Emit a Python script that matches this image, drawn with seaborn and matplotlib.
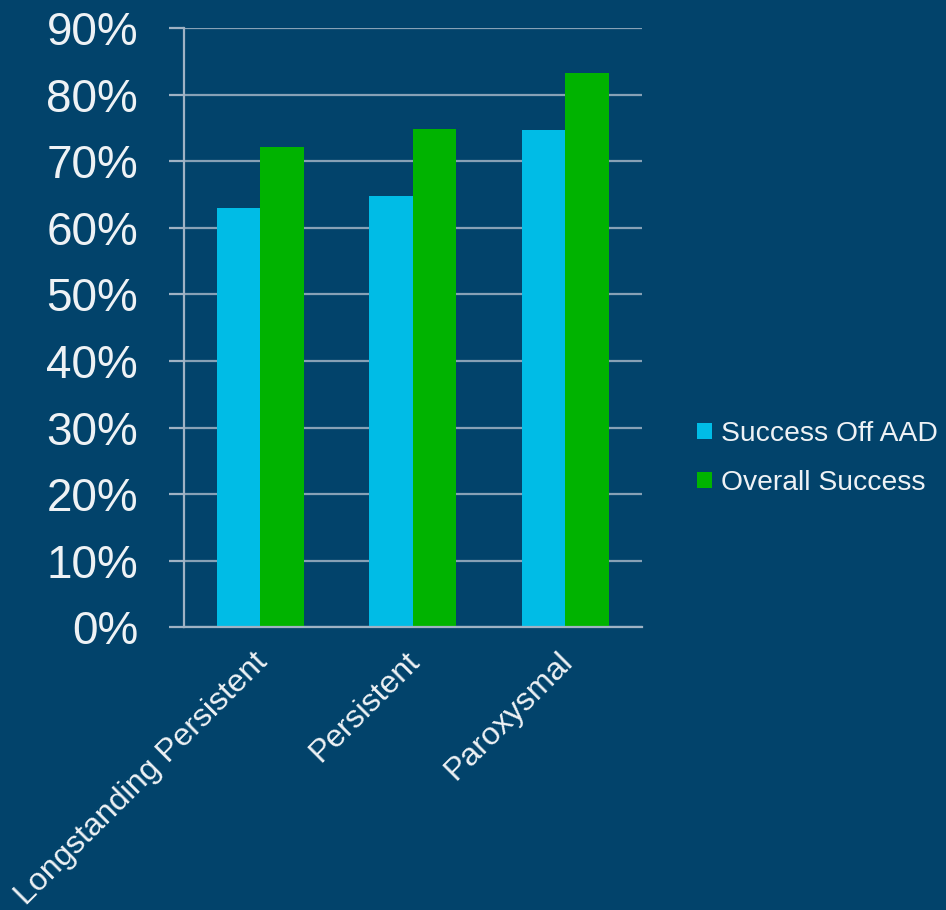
import matplotlib
matplotlib.use("Agg")
import matplotlib.pyplot as plt
import matplotlib.transforms as mtransforms
import seaborn as sns
import pandas as pd
from matplotlib.ticker import PercentFormatter

# Data
categories = ["Longstanding Persistent", "Persistent", "Paroxysmal"]
series_names = ["Success Off AAD", "Overall Success"]
success_off_aad = [63.0, 64.8, 74.7]
overall_success = [72.2, 74.9, 83.2]
y_ticks = [0, 10, 20, 30, 40, 50, 60, 70, 80, 90]

bg = "#02436b"
grid_col = "#9fb2c4"
text_col = "#eef2f5"
palette = {"Success Off AAD": "#00bce6", "Overall Success": "#00b300"}

df = pd.DataFrame({
    "category": categories * 2,
    "series": [series_names[0]] * 3 + [series_names[1]] * 3,
    "value": success_off_aad + overall_success,
})

sns.set_theme(style="white")
plt.rcParams["font.family"] = ["Liberation Sans", "DejaVu Sans"]

fig = plt.figure(figsize=(9.46, 9.10), dpi=100, facecolor=bg)
ax = fig.add_axes([0.1945, 0.3107, 0.4838, 0.6585])
ax.set_facecolor(bg)

sns.barplot(data=df, x="category", y="value", hue="series", order=categories,
            hue_order=series_names, palette=palette, width=0.57,
            saturation=1, linewidth=0, ax=ax, legend=True)

ax.set_xlim(-0.5, 2.5)
ax.set_ylim(0, 90)
ax.set_yticks(y_ticks)
ax.yaxis.set_major_formatter(PercentFormatter(decimals=0))
ax.set_xlabel("")
ax.set_ylabel("")

# Gridlines and axes
ax.set_axisbelow(True)
ax.yaxis.grid(True, color=grid_col, linewidth=1.6, alpha=0.85)
ax.xaxis.grid(False)
for side in ["top", "right"]:
    ax.spines[side].set_visible(False)
for side in ["left", "bottom"]:
    ax.spines[side].set_color(grid_col)
    ax.spines[side].set_linewidth(1.6)

# Category labels at group centres, boundary ticks between groups
ax.set_xticks([0, 1, 2])
ax.set_xticklabels(categories, rotation=45, ha="right", va="top",
                   fontsize=23, color=text_col, rotation_mode="anchor")
ax.tick_params(axis="x", which="major", length=0, pad=14)
ax.set_xticks([-0.5, 0.5, 1.5, 2.5], minor=True)
ax.tick_params(axis="x", which="minor", length=7, width=1.4, color=grid_col,
               direction="out")
ax.tick_params(axis="y", length=11, width=1.6, color=grid_col, pad=22,
               labelsize=33, labelcolor=text_col, direction="out", left=True)

shift = mtransforms.ScaledTranslation(-8 / 100, 0, fig.dpi_scale_trans)
for lbl in ax.get_xticklabels():
    lbl.set_color(text_col)
    lbl.set_transform(lbl.get_transform() + shift)

# Legend
handles, labels = ax.get_legend_handles_labels()
ax.legend_.remove()
leg = fig.legend(handles, labels, loc="center left",
                 bbox_to_anchor=(0.737, 0.4962), frameon=False,
                 fontsize=20.3, handlelength=0.53, handleheight=0.53,
                 handletextpad=0.32, labelspacing=0.82, borderpad=0,
                 borderaxespad=0)
for t in leg.get_texts():
    t.set_color(text_col)

fig.savefig("out.png", dpi=100, facecolor=bg)
